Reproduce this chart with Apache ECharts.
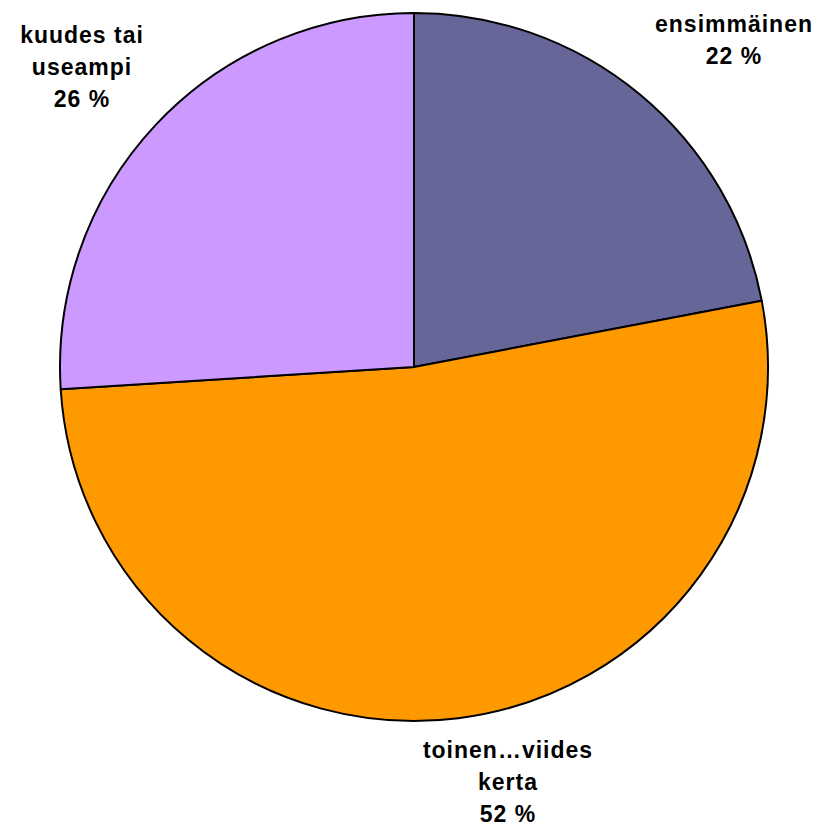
<!DOCTYPE html>
<html>
<head>
<meta charset="utf-8">
<script src="https://cdn.jsdelivr.net/npm/echarts@6/dist/echarts.min.js"></script>
<style>
html,body{margin:0;padding:0;background:#fff;}
#chart{width:823px;height:829px;}
#chart text{letter-spacing:1px;}
</style>
</head>
<body>
<div id="chart"></div>
<script>
const categories = ['ensimmäinen', 'toinen…viides\nkerta', 'kuudes tai\nuseampi'];
const values = [22, 52, 26];
const colors = ['#666699', '#FF9900', '#CC99FF'];
const labelPos = [[734, 40], [508, 782], [82, 67]];

const chart = echarts.init(document.getElementById('chart'), null, { renderer: 'svg' });
chart.setOption({
  backgroundColor: '#ffffff',
  animation: false,
  series: [{
    type: 'pie',
    center: [414, 367],
    radius: 354,
    startAngle: 90,
    clockwise: true,
    data: categories.map((c, i) => ({ name: c, value: values[i], itemStyle: { color: colors[i] } })),
    itemStyle: { borderColor: '#000', borderWidth: 2 },
    label: {
      show: true,
      position: 'outside',
      formatter: p => p.name + '\n' + p.value + ' %',
      fontFamily: 'Arial',
      fontWeight: 'bold',
      fontSize: 23,
      lineHeight: 32,
      color: '#000',
      align: 'center',
      overflow: 'none',
      width: 300
    },
    labelLine: { show: false },
    labelLayout: p => ({ x: labelPos[p.dataIndex][0], y: labelPos[p.dataIndex][1], align: 'center', verticalAlign: 'middle' }),
    emphasis: { disabled: true }
  }]
});
</script>
</body>
</html>
